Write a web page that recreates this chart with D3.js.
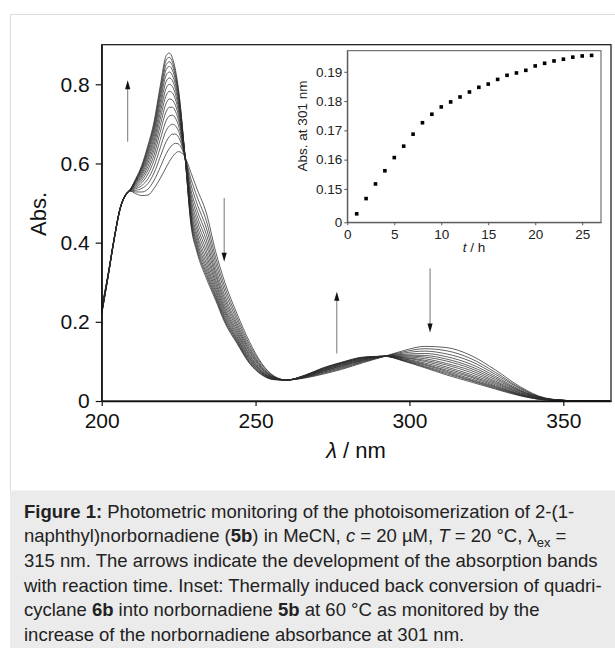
<!DOCTYPE html>
<html><head><meta charset="utf-8">
<script src="https://cdn.jsdelivr.net/npm/d3@7/dist/d3.min.js"></script>
<style>
html,body{margin:0;padding:0;background:#fff;}
svg{display:block;font-family:"Liberation Sans",Arial,Helvetica,sans-serif;}
</style></head><body>
<svg id="chart" width="615" height="648"></svg>
<script>
// ---------- main spectra (wavelength in nm, absorbance) ----------
const wavelengths = [200,202,204,206,208,209,211,213,215,217,219,221,222,223,224,225,227,229,231,234,237,240,244,248,252,256,260,266,272,278,285,292,298,305,312,320,328,336,344,352,365];
const scan01 = [0.236,0.318,0.410,0.488,0.524,0.531,0.524,0.519,0.520,0.537,0.562,0.591,0.605,0.617,0.626,0.630,0.617,0.577,0.535,0.475,0.378,0.300,0.220,0.150,0.095,0.063,0.053,0.058,0.068,0.080,0.097,0.113,0.127,0.138,0.135,0.115,0.078,0.036,0.008,0.001,0];
const scan02 = [0.234,0.317,0.409,0.488,0.524,0.531,0.528,0.528,0.535,0.557,0.590,0.625,0.638,0.647,0.651,0.649,0.618,0.561,0.516,0.455,0.363,0.288,0.211,0.143,0.092,0.062,0.053,0.059,0.070,0.082,0.099,0.113,0.124,0.132,0.127,0.107,0.072,0.033,0.007,0.001,0];
const scan03 = [0.232,0.316,0.409,0.487,0.524,0.531,0.532,0.537,0.549,0.576,0.616,0.656,0.668,0.674,0.674,0.666,0.619,0.547,0.498,0.437,0.350,0.277,0.203,0.137,0.088,0.061,0.053,0.060,0.072,0.084,0.100,0.113,0.121,0.126,0.119,0.100,0.067,0.031,0.007,0.001,0];
const scan04 = [0.230,0.315,0.408,0.487,0.524,0.531,0.536,0.544,0.561,0.592,0.639,0.684,0.695,0.699,0.695,0.681,0.620,0.533,0.482,0.421,0.337,0.266,0.195,0.132,0.085,0.060,0.053,0.060,0.073,0.086,0.102,0.113,0.118,0.120,0.112,0.093,0.062,0.028,0.006,0.001,0];
const scan05 = [0.229,0.314,0.408,0.487,0.524,0.531,0.539,0.551,0.573,0.608,0.660,0.709,0.720,0.722,0.714,0.695,0.620,0.522,0.468,0.406,0.326,0.257,0.189,0.127,0.083,0.059,0.053,0.061,0.075,0.088,0.103,0.113,0.116,0.115,0.106,0.087,0.058,0.026,0.006,0.001,0];
const scan06 = [0.227,0.314,0.408,0.487,0.523,0.531,0.542,0.557,0.583,0.621,0.679,0.732,0.742,0.742,0.731,0.708,0.621,0.511,0.455,0.393,0.317,0.249,0.183,0.123,0.081,0.059,0.053,0.062,0.076,0.089,0.104,0.113,0.114,0.111,0.101,0.082,0.054,0.025,0.006,0.001,0];
const scan07 = [0.226,0.313,0.407,0.486,0.523,0.531,0.545,0.563,0.592,0.634,0.696,0.753,0.763,0.760,0.746,0.719,0.622,0.501,0.443,0.380,0.307,0.241,0.177,0.118,0.078,0.058,0.053,0.062,0.077,0.090,0.105,0.113,0.112,0.107,0.095,0.077,0.050,0.023,0.005,0.001,0];
const scan08 = [0.225,0.313,0.407,0.486,0.523,0.531,0.547,0.568,0.601,0.645,0.712,0.773,0.782,0.778,0.761,0.730,0.622,0.492,0.432,0.369,0.299,0.234,0.172,0.115,0.076,0.057,0.053,0.063,0.078,0.092,0.106,0.113,0.110,0.103,0.091,0.072,0.047,0.021,0.005,0.001,0];
const scan09 = [0.224,0.312,0.407,0.486,0.523,0.531,0.550,0.573,0.609,0.656,0.727,0.791,0.800,0.794,0.774,0.740,0.623,0.483,0.421,0.358,0.291,0.228,0.167,0.111,0.074,0.057,0.053,0.063,0.079,0.093,0.107,0.113,0.109,0.100,0.086,0.067,0.044,0.020,0.005,0.001,0];
const scan10 = [0.223,0.312,0.406,0.486,0.523,0.531,0.552,0.578,0.616,0.666,0.741,0.808,0.816,0.809,0.787,0.749,0.623,0.475,0.412,0.348,0.283,0.222,0.162,0.108,0.073,0.056,0.053,0.063,0.080,0.094,0.108,0.113,0.107,0.096,0.082,0.063,0.041,0.018,0.004,0.001,0];
const scan11 = [0.222,0.311,0.406,0.486,0.523,0.531,0.554,0.582,0.623,0.676,0.754,0.824,0.831,0.822,0.798,0.758,0.624,0.468,0.403,0.339,0.277,0.216,0.158,0.105,0.071,0.056,0.053,0.064,0.081,0.095,0.109,0.113,0.106,0.093,0.078,0.060,0.038,0.017,0.004,0.001,0];
const scan12 = [0.221,0.311,0.406,0.485,0.522,0.531,0.556,0.586,0.629,0.684,0.766,0.838,0.845,0.835,0.809,0.766,0.624,0.462,0.395,0.331,0.270,0.211,0.154,0.102,0.070,0.055,0.053,0.064,0.082,0.096,0.109,0.113,0.104,0.091,0.075,0.056,0.036,0.016,0.004,0.001,0];
const scan13 = [0.220,0.311,0.405,0.485,0.522,0.531,0.557,0.589,0.635,0.692,0.776,0.850,0.857,0.846,0.818,0.773,0.624,0.456,0.388,0.323,0.265,0.206,0.151,0.099,0.068,0.055,0.053,0.064,0.083,0.097,0.110,0.113,0.103,0.088,0.072,0.053,0.034,0.015,0.003,0.001,0];
const scan14 = [0.219,0.310,0.405,0.485,0.522,0.531,0.559,0.592,0.640,0.698,0.786,0.862,0.868,0.856,0.827,0.779,0.625,0.450,0.381,0.317,0.260,0.202,0.148,0.097,0.067,0.054,0.053,0.065,0.083,0.097,0.110,0.113,0.102,0.086,0.069,0.051,0.032,0.014,0.003,0.001,0];
const scan15 = [0.219,0.310,0.405,0.485,0.522,0.531,0.560,0.595,0.645,0.705,0.795,0.873,0.879,0.866,0.835,0.785,0.625,0.445,0.375,0.310,0.255,0.198,0.145,0.095,0.066,0.054,0.053,0.065,0.084,0.098,0.111,0.113,0.101,0.084,0.066,0.048,0.030,0.013,0.003,0.001,0];
const scans = [scan01,scan02,scan03,scan04,scan05,scan06,scan07,scan08,scan09,scan10,scan11,scan12,scan13,scan14,scan15];

const mainXTicks = [200,250,300,350];
const mainYTicks = [0,0.2,0.4,0.6,0.8];
const mainYTickLabels = ["0","0.2","0.4","0.6","0.8"];

// arrows: wavelength, start absorbance, tip absorbance
const arrowLambda = [208.45, 239.8, 276.4, 306.7];
const arrowFrom   = [0.655, 0.513, 0.120, 0.335];
const arrowTo     = [0.810, 0.352, 0.276, 0.173];

// ---------- inset ----------
const insetTime = [1,2,3,4,5,6,7,8,9,10,11,12,13,14,15,16,17,18,19,20,21,22,23,24,25,26];
const insetAbs  = [0.1415,0.1467,0.1517,0.1562,0.1607,0.1646,0.1687,0.1726,0.1755,0.1780,0.1797,0.1814,0.1831,0.1847,0.1858,0.1874,0.1888,0.1896,0.1905,0.1920,0.1929,0.1937,0.1943,0.1950,0.1954,0.1956];
const insetXTicks = [0,5,10,15,20,25];
const insetYTicks = [0.1386,0.15,0.16,0.17,0.18,0.19];
const insetYTickLabels = ["0","0.15","0.16","0.17","0.18","0.19"];

// ---------- caption ----------
const captionLines = [
  [["Figure 1:","b"],[" Photometric monitoring of the photoisomerization of 2-(1-",""]],
  [["naphthyl)norbornadiene (",""],["5b","b"],[") in MeCN, ",""],["c","i"],[" = 20 µM, ",""],["T","i"],[" = 20 °C, λ",""],["ex","sub"],[" =",""]],
  [["315 nm. The arrows indicate the development of the absorption bands",""]],
  [["with reaction time. Inset: Thermally induced back conversion of quadri-",""]],
  [["cyclane ",""],["6b","b"],[" into norbornadiene ",""],["5b","b"],[" at 60 °C as monitored by the",""]],
  [["increase of the norbornadiene absorbance at 301 nm.",""]]
];

const svg = d3.select("#chart");

// panel and caption background
svg.append("rect").attr("x",10.5).attr("y",14.5).attr("width",620).attr("height",500)
  .attr("fill","#fff").attr("stroke","#dcdcdc").attr("stroke-width",1);
svg.append("rect").attr("x",10).attr("y",490.5).attr("width",620).attr("height",170).attr("fill","#ebebeb");

// ---------- main plot ----------
const x = d3.scaleLinear().domain([200,365.5]).range([101.7,611]);
const y = d3.scaleLinear().domain([0,0.9]).range([401,44.7]);

svg.append("defs").append("clipPath").attr("id","clipMain")
  .append("rect").attr("x",101.7).attr("y",44.7).attr("width",611-101.7).attr("height",401-44.7);

const line = d3.line().x((d,i)=>x(wavelengths[i])).y(d=>y(d)).curve(d3.curveMonotoneX);
const gLines = svg.append("g").attr("clip-path","url(#clipMain)");
gLines.selectAll("path").data(scans).join("path")
  .attr("d",line).attr("fill","none").attr("stroke","#2b2b2b").attr("stroke-width",0.75);

// frame
svg.append("rect").attr("x",101.7).attr("y",44.7).attr("width",611-101.7).attr("height",401-44.7)
  .attr("fill","none").attr("stroke","#111").attr("stroke-width",1.2);

const xAxis = svg.append("g").attr("transform","translate(0,401)")
  .call(d3.axisBottom(x).tickValues(mainXTicks).tickFormat(d3.format("d")).tickSize(5).tickSizeOuter(0).tickPadding(7));
const yAxis = svg.append("g").attr("transform","translate(101.7,0)")
  .call(d3.axisLeft(y).tickValues(mainYTicks).tickFormat((d,i)=>mainYTickLabels[i]).tickSize(6).tickSizeOuter(0).tickPadding(6));
[xAxis,yAxis].forEach(g=>{
  g.select(".domain").attr("stroke","#111").attr("stroke-width",1.3);
  g.selectAll(".tick line").attr("stroke","#111").attr("stroke-width",1.2);
  g.selectAll(".tick text").attr("font-size",21).attr("fill","#111").attr("font-family","'Liberation Sans',Arial,sans-serif");
});

svg.append("text").attr("transform","translate(46,214) rotate(-90)").attr("text-anchor","middle")
  .attr("font-size",22).attr("fill","#111").text("Abs.");
const xt = svg.append("text").attr("x",356).attr("y",458).attr("text-anchor","middle").attr("font-size",22).attr("fill","#111");
xt.append("tspan").attr("font-style","italic").text("λ");
xt.append("tspan").text(" / nm");

// arrows
arrowLambda.forEach((l,i)=>{
  const ax = x(l), y0 = y(arrowFrom[i]), y1 = y(arrowTo[i]);
  const dir = y1 < y0 ? 1 : -1;
  svg.append("line").attr("x1",ax).attr("x2",ax).attr("y1",y0).attr("y2",y1+dir*6)
    .attr("stroke","#777").attr("stroke-width",1);
  svg.append("path").attr("d",`M${ax},${y1} L${ax-2.6},${y1+dir*9} L${ax+2.6},${y1+dir*9} Z`).attr("fill","#111");
});

// ---------- inset ----------
const ix = d3.scaleLinear().domain([0,27]).range([347.3,601]);
const iy = d3.scaleLinear().domain([0.1386,0.1972]).range([222.3,50.7]);
svg.append("rect").attr("x",347.3).attr("y",50.7).attr("width",601-347.3).attr("height",222.3-50.7)
  .attr("fill","#fff").attr("stroke","#555").attr("stroke-width",1);
const ixAxis = svg.append("g").attr("transform","translate(0,222.3)")
  .call(d3.axisBottom(ix).tickValues(insetXTicks).tickFormat(d3.format("d")).tickSize(3).tickSizeOuter(0).tickPadding(4));
const iyAxis = svg.append("g").attr("transform","translate(347.3,0)")
  .call(d3.axisLeft(iy).tickValues(insetYTicks).tickFormat((d,i)=>insetYTickLabels[i]).tickSize(3).tickSizeOuter(0).tickPadding(2));
[ixAxis,iyAxis].forEach(g=>{
  g.select(".domain").attr("stroke","#555").attr("stroke-width",1);
  g.selectAll(".tick line").attr("stroke","#555");
  g.selectAll(".tick text").attr("font-size",13.5).attr("fill","#222").attr("font-family","'Liberation Sans',Arial,sans-serif");
});
svg.selectAll("rect.pt").data(insetTime).join("rect").attr("class","pt")
  .attr("x",(d)=>ix(d)-1.8).attr("y",(d,i)=>iy(insetAbs[i])-1.8).attr("width",3.6).attr("height",3.6).attr("fill","#000");
svg.append("text").attr("transform","translate(307,126) rotate(-90)").attr("text-anchor","middle")
  .attr("font-size",13.5).attr("fill","#222").text("Abs. at 301 nm");
const it = svg.append("text").attr("x",474).attr("y",252).attr("text-anchor","middle").attr("font-size",13.5).attr("fill","#222");
it.append("tspan").attr("font-style","italic").text("t");
it.append("tspan").text(" / h");

// ---------- caption ----------
const capBase = 517.7, capStep = 24.6;
captionLines.forEach((segs,li)=>{
  const t = svg.append("text").attr("x",24).attr("y",capBase+li*capStep)
    .attr("font-size",18.5).attr("fill","#222").style("white-space","pre");
  let shifted = false;
  segs.forEach(([s,st])=>{
    const ts = t.append("tspan").text(s);
    if (st==="b") ts.attr("font-weight","bold");
    if (st==="i") ts.attr("font-style","italic");
    if (st==="sub") { ts.attr("font-size",13).attr("dy",5); shifted = true; }
    else if (shifted) { ts.attr("dy",-5); shifted = false; }
  });
});
</script>
</body></html>
